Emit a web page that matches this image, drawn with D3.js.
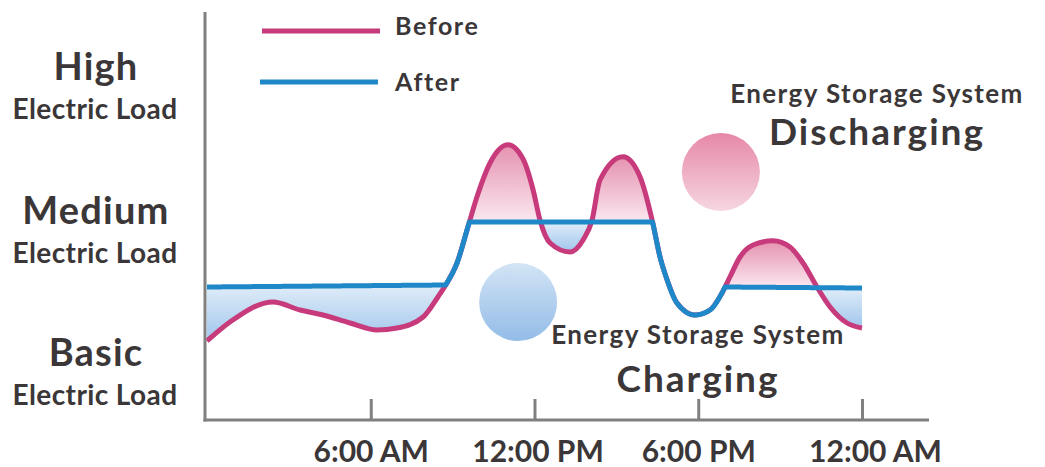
<!DOCTYPE html>
<html><head><meta charset="utf-8">
<script src="https://cdn.jsdelivr.net/npm/d3@7"></script>
<style>
html,body{margin:0;padding:0;background:#fff;}
svg{display:block;font-family:Lato,'Open Sans',sans-serif;font-weight:700;}
</style></head><body>
<svg id="chart" width="1045" height="467"></svg>
<script>
// ---- data ----
const hours = [0, 0.84, 2.42, 3.41, 4.25, 5.24, 6.23, 6.96, 7.92, 8.46, 8.79, 9.16, 9.56, 9.89, 10.37, 11.03, 11.58, 11.95, 12.2, 12.57, 13.3, 13.78, 14.11, 14.4, 15.24, 15.87, 16.31, 16.6, 16.86, 17.22, 17.88, 18.43, 18.87, 19.16, 19.53, 20.01, 20.74, 21.36, 21.84, 22.35, 22.83, 23.45, 24];
const beforeLoad = [19.75, 24.5, 29.5, 27.5, 26.25, 24.25, 22.5, 23, 25.75, 30.75, 34.25, 39.25, 48.25, 55.75, 64.25, 68.8, 65.25, 57.5, 50, 44.25, 42, 45, 50, 60, 65.8, 60.75, 50, 40.75, 35, 29.25, 26.25, 27.5, 31.75, 35.75, 40.75, 43.75, 44.8, 43.25, 39.25, 33.25, 28.25, 24.25, 23];
const afterFrom = [0, 9.6, 18.95];
const afterTo = [8.78, 16.32, 24];
const afterStartLoad = [33.25, 49.5, 33.25];
const afterEndLoad = [33.75, 49.5, 33];
const tickHours = [6, 12, 18, 24];
const tickLabels = ["6:00 AM", "12:00 PM", "6:00 PM", "12:00 AM"];
const levelNames = ["High", "Medium", "Basic"];
const levelSubs = ["Electric Load", "Electric Load", "Electric Load"];
const levelLoad = [85, 49, 13.5];
const legendNames = ["Before", "After"];
const circleHour = [18.83, 11.4];
const circleLoad = [62, 29.5];
const noteTitles = ["Energy Storage System", "Energy Storage System"];
const noteWords = ["Discharging", "Charging"];
const noteHour = [24.55, 17.99];
const noteLoad = [79.25, 19];

// ---- setup ----
const svg = d3.select("#chart");
const x = d3.scaleLinear().domain([0, 24]).range([207, 862]);
const y = d3.scaleLinear().domain([0, 100]).range([420, 20]);
const pink = "#c73a7b", blue = "#1f88c9", axisCol = "#808080", txt = "#3b3738";

const defs = svg.append("defs");
function vgrad(id, c0, c1) {
  const g = defs.append("linearGradient").attr("id", id).attr("x1", 0).attr("y1", 0).attr("x2", 0).attr("y2", 1);
  g.append("stop").attr("offset", 0).attr("stop-color", c0);
  g.append("stop").attr("offset", 1).attr("stop-color", c1);
}
vgrad("pinkFill", "#e592b0", "#fbe8f0");
vgrad("blueFill", "#e0edf9", "#a0c5ec");
vgrad("pinkBall", "#e688a7", "#f6d6e1");
vgrad("blueBall", "#d3e4f5", "#93bce8");

const beforeData = hours.map((h, i) => [h, beforeLoad[i]]);
const lineGen = d3.line().x(d => x(d[0])).y(d => y(d[1])).curve(d3.curveMonotoneX);

// hidden path to sample the smooth "before" curve
const probe = svg.append("path").attr("d", lineGen(beforeData)).attr("fill", "none").attr("stroke", "none");
const node = probe.node();
const L = node.getTotalLength();
const samples = [];
for (let s = 0; s <= L; s += 0.25) { const p = node.getPointAtLength(s); samples.push([p.x, p.y]); }
samples.push([node.getPointAtLength(L).x, node.getPointAtLength(L).y]);
samples.sort((a, b) => a[0] - b[0]);
function yBefore(px) {
  let lo = 0, hi = samples.length - 1;
  if (px <= samples[0][0]) return samples[0][1];
  if (px >= samples[hi][0]) return samples[hi][1];
  while (hi - lo > 1) { const m = (lo + hi) >> 1; if (samples[m][0] <= px) lo = m; else hi = m; }
  const a = samples[lo], b = samples[hi];
  const t = b[0] === a[0] ? 0 : (px - a[0]) / (b[0] - a[0]);
  return a[1] + t * (b[1] - a[1]);
}
function levelY(w, px) {
  const x0 = x(afterFrom[w]), x1 = x(afterTo[w]);
  const t = (px - x0) / (x1 - x0);
  return y(afterStartLoad[w] + t * (afterEndLoad[w] - afterStartLoad[w]));
}
function refine(w, px0) {
  const f = px => yBefore(px) - levelY(w, px);
  let best = px0, bestD = Infinity;
  for (let p = px0 - 25; p < px0 + 25; p += 0.1) {
    if (Math.sign(f(p)) !== Math.sign(f(p + 0.1))) {
      const c = p + 0.05; if (Math.abs(c - px0) < bestD) { bestD = Math.abs(c - px0); best = c; }
    }
  }
  return best;
}
const X0 = x(0), X1 = x(24);
const wins = afterFrom.map((f, w) => [
  afterFrom[w] <= 0 ? X0 : refine(w, x(afterFrom[w])),
  afterTo[w] >= 24 ? X1 : refine(w, x(afterTo[w]))
]);
function yAfter(px) {
  for (let w = 0; w < wins.length; w++) if (px >= wins[w][0] - 1e-6 && px <= wins[w][1] + 1e-6) return levelY(w, px);
  return yBefore(px);
}
let grid = d3.range(X0, X1, 0.5).concat([X1]);
wins.forEach(wb => grid.push(wb[0], wb[1]));
grid = Array.from(new Set(grid)).sort((a, b) => a - b);
const pts = grid.map(px => ({ x: px, yb: yBefore(px), ya: yAfter(px) }));

// ---- fills (runs where before is above / below after) ----
const runs = [];
let cur = null;
pts.forEach(p => {
  const d = p.ya - p.yb;
  const s = d > 0.3 ? 1 : (d < -0.3 ? -1 : 0);
  if (s === 0) { if (cur) { cur.pts.push(p); runs.push(cur); cur = null; } return; }
  if (!cur || cur.s !== s) { if (cur) runs.push(cur); cur = { s, pts: [] }; }
  cur.pts.push(p);
});
if (cur) runs.push(cur);
const areaGen = d3.area().x(d => d.x).y0(d => d.ya).y1(d => d.yb);
svg.append("g").selectAll("path").data(runs).join("path")
  .attr("d", r => areaGen(r.pts))
  .attr("fill", r => r.s > 0 ? "url(#pinkFill)" : "url(#blueFill)");

// ---- lines ----
svg.append("path").attr("d", lineGen(beforeData)).attr("fill", "none")
  .attr("stroke", pink).attr("stroke-width", 5).attr("stroke-linejoin", "round");
svg.append("path").attr("d", d3.line().x(d => d.x).y(d => d.ya)(pts)).attr("fill", "none")
  .attr("stroke", blue).attr("stroke-width", 5).attr("stroke-linejoin", "round");

// ---- circles ----
svg.append("g").selectAll("circle").data(circleHour).join("circle")
  .attr("cx", d => x(d)).attr("cy", (d, i) => y(circleLoad[i])).attr("r", 39)
  .attr("fill", (d, i) => i === 0 ? "url(#pinkBall)" : "url(#blueBall)");

// ---- notes ----
const notes = svg.append("g").attr("fill", txt).attr("text-anchor", "middle");
noteWords.forEach((w, i) => {
  notes.append("text").attr("x", x(noteHour[i])).attr("y", y(noteLoad[i]))
    .attr("font-size", 26).attr("letter-spacing", 1.4).text(noteTitles[i]);
  notes.append("text").attr("x", x(noteHour[i])).attr("y", y(noteLoad[i]) + (i === 0 ? 42 : 48))
    .attr("font-size", 37).attr("letter-spacing", 2).text(w);
});

// ---- legend ----
const leg = svg.append("g");
const legLineY = [31, 82], legTextY = [35, 90.5];
legendNames.forEach((n, i) => {
  leg.append("line").attr("x1", 262 - i * 2).attr("x2", 380 - i * 2).attr("y1", legLineY[i]).attr("y2", legLineY[i])
    .attr("stroke", i === 0 ? pink : blue).attr("stroke-width", 5);
  leg.append("text").attr("x", 395).attr("y", legTextY[i]).attr("font-size", 25)
    .attr("letter-spacing", 1.6).attr("fill", txt).text(n);
});

// ---- y level labels ----
const yl = svg.append("g").attr("fill", txt).attr("text-anchor", "middle");
levelNames.forEach((n, i) => {
  yl.append("text").attr("x", 96).attr("y", y(levelLoad[i])).attr("font-size", 38)
    .attr("letter-spacing", 1.2).text(n);
  yl.append("text").attr("x", 95).attr("y", y(levelLoad[i]) + 39).attr("font-size", 28)
    .attr("letter-spacing", 0.4).text(levelSubs[i]);
});

// ---- axes ----
svg.append("line").attr("x1", 205).attr("x2", 205).attr("y1", 12).attr("y2", 421.5)
  .attr("stroke", axisCol).attr("stroke-width", 3);
svg.append("line").attr("x1", 203.5).attr("x2", 929).attr("y1", 420).attr("y2", 420)
  .attr("stroke", axisCol).attr("stroke-width", 3);
const xa = svg.append("g").attr("transform", "translate(0,420)")
  .call(d3.axisBottom(x).tickValues(tickHours).tickFormat((d, i) => tickLabels[i]).tickSize(-21).tickPadding(21));
xa.select(".domain").remove();
xa.selectAll(".tick line").attr("stroke", axisCol).attr("stroke-width", 3);
xa.selectAll(".tick text").attr("fill", txt).attr("font-size", 30)
  .attr("dx", (d, i) => i === tickHours.length - 1 ? 13 : (i === 1 ? 3 : 0))
  .attr("font-family", "Lato,'Open Sans',sans-serif").attr("font-weight", 700);
</script>
</body></html>
